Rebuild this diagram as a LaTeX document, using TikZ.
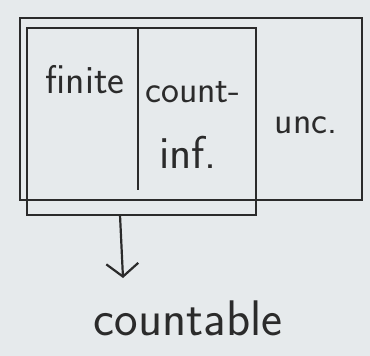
\documentclass[tikz,border=0pt]{standalone}
\usetikzlibrary{arrows.meta}
\definecolor{paper}{HTML}{E6EAEC}
\definecolor{ink}{HTML}{2B2B2B}
\begin{document}
\begin{tikzpicture}[x=1pt,y=-1pt,
  box/.style={draw=ink,line width=2.2pt,inner sep=0pt},
  lbl/.style={text=ink,inner sep=0pt},
  conn/.style={draw=ink,line width=2.2pt}]
\fill[paper] (0,0) rectangle (370,356);
\useasboundingbox (0,0) rectangle (370,356);
% universe
\node[box,minimum width=342pt,minimum height=182pt] (U) at (191,109) {};
% countable
\node[box,minimum width=229pt,minimum height=187pt] (C) at (141.5,121.5) {};
\coordinate (dtop) at (138,28);
\coordinate (dbot) at (138,190);
\draw[conn] (dtop) -- (dbot);
% labels
\node[lbl,font=\sffamily\fontsize{40}{40}\selectfont] (fin) at (85,80) {finite};
\node[lbl,font=\sffamily\fontsize{38}{38}\selectfont] (cinf1) at (193,92) {count-};
\node[lbl,font=\sffamily\fontsize{46}{46}\selectfont] (cinf2) at (188,152) {inf.};
\node[lbl,font=\sffamily\fontsize{38}{38}\selectfont] (unc) at (306,125) {unc.};
\node[lbl,font=\sffamily\fontsize{50}{50}\selectfont] (cnt) at (188,318) {countable};
\coordinate (astart) at (120,215);
\coordinate (aend) at (123,278);
\draw[conn,-{Straight Barb[length=13pt,width=32pt]}] (astart) -- (aend);
\end{tikzpicture}
\end{document}
